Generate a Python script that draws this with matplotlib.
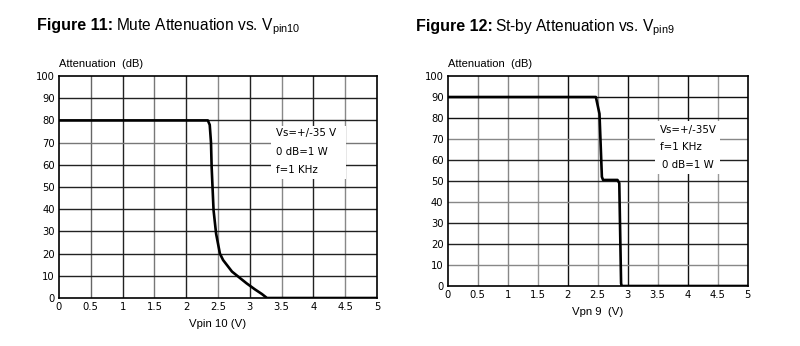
import matplotlib
matplotlib.use("Agg")
import matplotlib.pyplot as plt

plt.rcParams['font.family'] = ['Liberation Sans', 'DejaVu Sans']

# Figure 11: Mute attenuation vs Vpin10
mute_v = [0, 2.34, 2.37, 2.39, 2.40, 2.43, 2.47, 2.53, 2.58, 2.72, 2.85, 2.95, 3.08, 3.19, 3.27, 5.0]
mute_att = [80, 80, 78, 70, 59, 39.6, 29, 20, 17.1, 11.9, 8.9, 6.6, 3.9, 1.8, 0, 0]

# Figure 12: St-by attenuation vs Vpin9
stby_v = [0, 2.47, 2.53, 2.57, 2.59, 2.83, 2.86, 2.89, 2.90, 5.0]
stby_att = [90, 90, 82, 52, 50.5, 50.5, 49, 1.3, 0, 0]

x_ticks = [0, 0.5, 1, 1.5, 2, 2.5, 3, 3.5, 4, 4.5, 5]
x_labels = ['0', '0.5', '1', '1.5', '2', '2.5', '3', '3.5', '4', '4.5', '5']
y_ticks = [0, 10, 20, 30, 40, 50, 60, 70, 80, 90, 100]

fig = plt.figure(figsize=(8, 3.46), dpi=100)

def setup(ax, vgrid_colors, hgrid_colors):
    ax.set_xlim(0, 5)
    ax.set_ylim(0, 100)
    for xv, c in zip(x_ticks[1:-1], vgrid_colors):
        ax.axvline(xv, color=c, lw=1.0, zorder=1)
    for yv, c in zip(y_ticks[1:-1], hgrid_colors):
        ax.axhline(yv, color=c, lw=1.0, zorder=1)
    ax.set_xticks(x_ticks)
    ax.set_xticklabels(x_labels)
    ax.set_yticks(y_ticks)
    ax.tick_params(length=0, pad=3)
    for lab in ax.get_xticklabels() + ax.get_yticklabels():
        lab.set_fontfamily('DejaVu Sans')
        lab.set_fontsize(7.2)
    for s in ax.spines.values():
        s.set_linewidth(1.2)
        s.set_color('black')

box_font = dict(fontsize=7.4, family='DejaVu Sans')

# Left
ax1 = fig.add_axes([0.07375, 0.1387, 0.3975, 0.6416])
setup(ax1,
      ['#666', '#222', '#777', '#222', '#888', '#222', '#888', '#222', '#888'],
      ['#222', '#222', '#222', '#222', '#222', '#222', '#777', '#222', '#222'])
ax1.plot(mute_v, mute_att, color='black', lw=1.9, zorder=3, solid_joinstyle='round')
ax1.add_patch(plt.Rectangle((3.34, 53.5), 1.18, 24, facecolor='white', edgecolor='none', zorder=2))
for txt, yv in zip(['Vs=+/-35 V', '0 dB=1 W', 'f=1 KHz'], [74.3, 65.8, 57.7]):
    ax1.text(3.41, yv, txt, va='center', ha='left', zorder=4, **box_font)
ax1.set_xlabel('Vpin 10 (V)', fontsize=8.2, labelpad=5)
fig.text(0.07375, 1 - 67 / 346, 'Attenuation  (dB)', fontsize=8, ha='left', va='baseline')
fig.text(37 / 800, 1 - 30 / 346, 'Figure 11:', fontsize=11.5, fontweight='bold', ha='left', va='baseline')
fig.text(116 / 800, 1 - 30 / 346, r'Mute Attenuation vs. V$_{\mathregular{pin10}}$', fontsize=11.2, ha='left', va='baseline')

# Right
ax2 = fig.add_axes([0.5596, 0.1734, 0.375, 0.6069])
setup(ax2,
      ['#888', '#888', '#999', '#111', '#999', '#111', '#999', '#111', '#999'],
      ['#888', '#222', '#222', '#888', '#222', '#222', '#888', '#111', '#111'])
ax2.plot(stby_v, stby_att, color='black', lw=1.9, zorder=3)
ax2.add_patch(plt.Rectangle((3.46, 53.5), 1.08, 25, facecolor='white', edgecolor='none', zorder=2))
for txt, xv, yv in zip(['Vs=+/-35V', 'f=1 KHz', '0 dB=1 W'], [3.54, 3.54, 3.58], [74.3, 66.3, 57.6]):
    ax2.text(xv, yv, txt, va='center', ha='left', zorder=4, **box_font)
ax2.set_xlabel('Vpn 9  (V)', fontsize=8.2, labelpad=5)
fig.text(0.5596, 1 - 67 / 346, 'Attenuation  (dB)', fontsize=8, ha='left', va='baseline')
fig.text(416 / 800, 1 - 31 / 346, 'Figure 12:', fontsize=11.5, fontweight='bold', ha='left', va='baseline')
fig.text(495 / 800, 1 - 31 / 346, r'St-by Attenuation vs. V$_{\mathregular{pin9}}$', fontsize=11.2, ha='left', va='baseline')

fig.savefig('out.png', dpi=100, facecolor='white')
